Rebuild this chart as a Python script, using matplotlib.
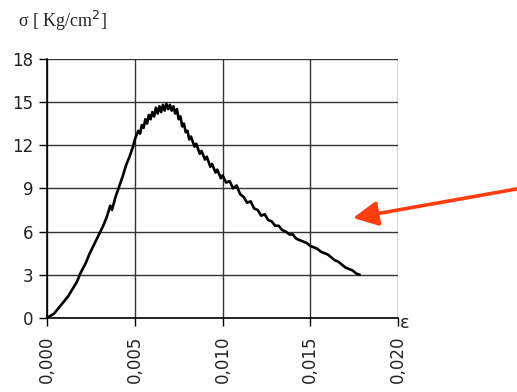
import matplotlib
matplotlib.use("Agg")
import matplotlib.pyplot as plt
from matplotlib.ticker import FuncFormatter

# strain / stress
strain = [0.0000, 0.0004, 0.0008, 0.0012, 0.0014, 0.0017, 0.0019, 0.0022, 0.0024, 0.0026,
          0.0028, 0.0030, 0.0032, 0.0034, 0.0036, 0.0037, 0.0039, 0.0041, 0.0043, 0.0045,
          0.0047, 0.0049, 0.0050, 0.0052, 0.0053, 0.0054, 0.0055, 0.0056, 0.0057, 0.0058,
          0.0059, 0.0060, 0.0061, 0.0062, 0.0063, 0.0064, 0.0065, 0.0066, 0.0067, 0.0068,
          0.0069, 0.0070, 0.0071, 0.0072, 0.0073, 0.0074, 0.0075, 0.0076, 0.0077, 0.0078,
          0.0079, 0.0080, 0.0081, 0.0082, 0.0084, 0.0085, 0.0087, 0.0088, 0.0090, 0.0091,
          0.0093, 0.0094, 0.0096, 0.0097, 0.0099, 0.0100, 0.0102, 0.0104, 0.0106, 0.0108,
          0.0110, 0.0112, 0.0114, 0.0116, 0.0118, 0.0120, 0.0122, 0.0124, 0.0126, 0.0128,
          0.0130, 0.0132, 0.0134, 0.0136, 0.0138, 0.0140, 0.0142, 0.0144, 0.0146, 0.0148,
          0.0150, 0.0152, 0.0154, 0.0156, 0.0158, 0.0160, 0.0162, 0.0164, 0.0166, 0.0168,
          0.0170, 0.0172, 0.0174, 0.0176, 0.0178]
stress = [0.0, 0.3, 0.9, 1.5, 1.9, 2.5, 3.1, 3.8, 4.4, 4.9,
          5.4, 5.9, 6.4, 7.0, 7.8, 7.5, 8.4, 9.1, 9.8, 10.6,
          11.2, 11.9, 12.4, 13.0, 12.8, 13.4, 13.2, 13.8, 13.5, 14.1,
          13.8, 14.3, 14.0, 14.6, 14.2, 14.7, 14.3, 14.8, 14.4, 14.9,
          14.5, 14.8, 14.4, 14.7, 14.2, 14.5, 13.8, 14.0, 13.3, 13.5,
          12.9, 13.0, 12.4, 12.6, 11.9, 12.1, 11.4, 11.6, 11.0, 11.2,
          10.5, 10.7, 10.1, 10.3, 9.7, 9.9, 9.4, 9.5, 9.0, 9.2,
          8.6, 8.4, 8.0, 8.1, 7.6, 7.5, 7.1, 7.2, 6.8, 6.7,
          6.4, 6.4, 6.1, 6.0, 5.8, 5.8, 5.5, 5.4, 5.3, 5.2,
          5.0, 4.9, 4.8, 4.6, 4.5, 4.4, 4.2, 4.0, 3.9, 3.7,
          3.5, 3.4, 3.3, 3.1, 3.0]

x_ticks = [0.000, 0.005, 0.010, 0.015, 0.020]
y_ticks = [0, 3, 6, 9, 12, 15, 18]

fig = plt.figure(figsize=(5.17, 3.92), dpi=100)
ax = fig.add_axes([0.091, 0.189, 0.679, 0.661])

ax.plot(strain, stress, color="black", lw=1.9, zorder=3)

ax.set_xlim(0, 0.020)
ax.set_ylim(0, 18)
ax.set_xticks(x_ticks)
ax.set_yticks(y_ticks)
ax.xaxis.set_major_formatter(FuncFormatter(lambda v, p: f"{v:.3f}".replace(".", ",")))
ax.grid(True, color="#333333", lw=1.0, zorder=1)
ax.set_axisbelow(True)

for s in ["top", "right"]:
    ax.spines[s].set_visible(False)
for s in ["left", "bottom"]:
    ax.spines[s].set_color("black")
    ax.spines[s].set_linewidth(1.2)

ax.tick_params(axis="y", direction="out", length=6, width=1, pad=4,
               labelsize=12, labelcolor="#222222")
ax.tick_params(axis="x", direction="out", length=6, width=1, pad=7,
               labelsize=12, labelcolor="#222222", labelrotation=90)

fig.text(18 / 517, 1 - 21 / 392, r"σ [ Kg/cm$^2$]", fontsize=13,
         family="Liberation Serif", va="center", ha="left", color="#222222")
fig.text(400 / 517, 1 - 323 / 392, "ε", fontsize=13, va="center", ha="left",
         color="#222222")

# red arrow pointing at the curve
ax.annotate("", xy=(353, 392 - 218), xycoords="figure pixels",
            xytext=(522, 392 - 188), textcoords="figure pixels",
            arrowprops=dict(arrowstyle="-|>,head_length=1.5,head_width=0.75",
                            color="#ff3d0f", lw=2.6, shrinkA=0, shrinkB=0),
            annotation_clip=False)

fig.savefig("out.png", dpi=100)
